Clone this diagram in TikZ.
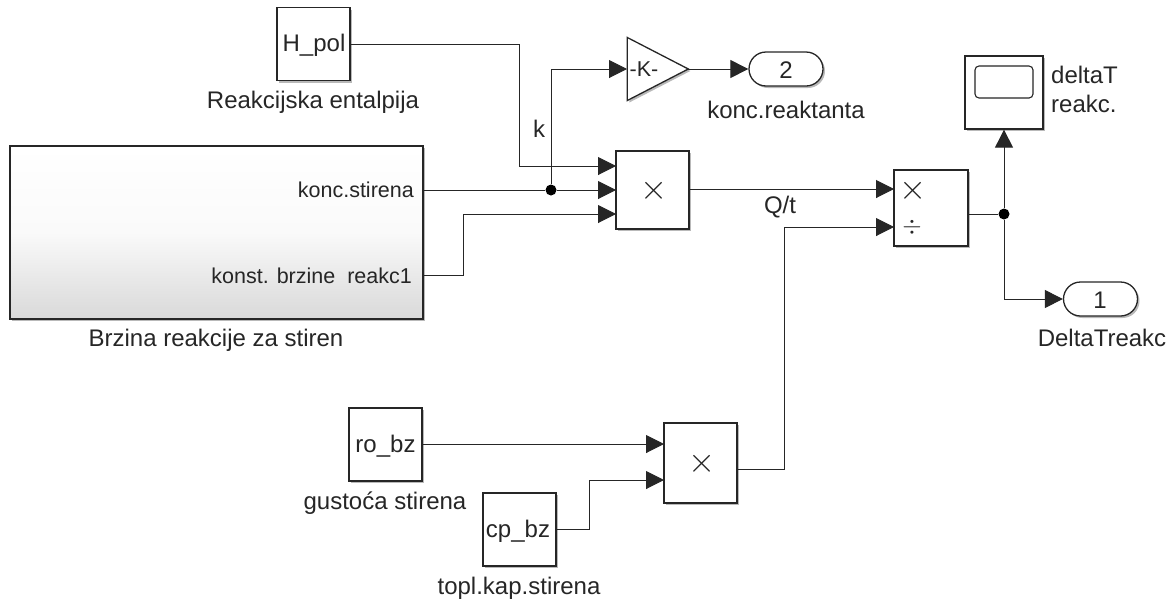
\documentclass[tikz,border=0pt]{standalone}
\usepackage{fontspec}
\setmainfont{Liberation Sans}
\usepackage{graphicx}
\usepackage{xcolor}
\usetikzlibrary{arrows.meta, shadows, shapes.geometric, shapes.misc}

\definecolor{inkgray}{HTML}{262626}
\newcommand{\prodsign}{\scalebox{1.4}{$\times$}}
\tikzset{
    blockshadow/.style={drop shadow={shadow xshift=2pt, shadow yshift=-2pt, fill=black!55}},
    block/.style={draw=inkgray, line width=1.3pt, fill=white, blockshadow, inner sep=0pt},
    port/.style={block, rounded rectangle, minimum width=74pt, minimum height=34pt},
    gainblock/.style={block, isosceles triangle, isosceles triangle stretches, minimum width=63pt, minimum height=61pt},
    txt/.style={text=inkgray, inner sep=0pt, font=\fontsize{24}{29}\selectfont},
    porttxt/.style={txt, anchor=east, font=\fontsize{21.5}{26}\selectfont},
    symb/.style={text=inkgray, inner sep=0pt, font=\fontsize{36}{36}\selectfont},
    wire/.style={draw=inkgray, line width=1pt},
    sig/.style={wire, -{Triangle[length=18pt, width=18pt]}},
    dot/.style={circle, fill=black, minimum size=11pt, inner sep=0pt}
}

\begin{document}
\begin{tikzpicture}[x=1pt, y=-1pt]
        \useasboundingbox (0,0) rectangle (1172,603);

        % Subsystem
        \node[block, top color=white, bottom color=black!15, middle color=black!2, minimum width=413pt, minimum height=173pt] (brzina) at (216.5,232.5) {};
        \node[porttxt] (koncstir) at (414,190) {konc.stirena};
        \node[porttxt] (konst) at (412,276) {konst. brzine\ \ reakc1};
        \node[txt] (brzinalab) at (216,340) {Brzina reakcije za stiren};
        \coordinate (brzinaA) at (423,190);
        \coordinate (brzinaB) at (423,275);
        \coordinate (bendB) at (463,214);

        % Enthalpy constant
        \node[block, minimum size=73pt] (hpol) at (313.5,44) {};
        \node[txt] (hpoltxt) at (314,45) {H\_pol};
        \node[txt] (hpollab) at (313,102) {Reakcijska entalpija};
        \coordinate (hpolA) at (350,44);
        \coordinate (bendH) at (519,166);

        % First product
        \node[block, minimum width=73pt, minimum height=78pt] (prodA) at (652.5,190) {};
        \node[symb] (prodAx) at (654,191) {\prodsign};
        \coordinate (prodAa) at (616,166);
        \coordinate (prodAb) at (616,190);
        \coordinate (prodAc) at (616,214);
        \coordinate (prodAout) at (689,189);

        % Gain
        \node[gainblock] (gain) at (646.5,69) {};
        \node[porttxt, anchor=center] (gaintxt) at (644,69) {-K-};
        \coordinate (gainin) at (627,69);
        \coordinate (gainout) at (688,69);
        \node[port] (outB) at (786,69) {};
        \node[txt] (outBtxt) at (786,70) {2};
        \node[txt] (outBlab) at (786,110) {konc.reaktanta};

        % Branch k
        \node[dot] (junA) at (551,190) {};
        \coordinate (kcorner) at (551,69);
        \node[txt] (klab) at (539,129) {k};

        % Second product
        \node[block, minimum width=74pt, minimum height=76pt] (prodB) at (931,208) {};
        \node[symb] (prodBx) at (913,191) {\prodsign};
        \node[symb] (prodBd) at (912,227) {$\div$};
        \coordinate (prodBa) at (894,189);
        \coordinate (prodBb) at (894,227);
        \coordinate (prodBout) at (968,214);
        \node[txt] (qtlab) at (780,207) {Q/t};

        % Scope
        \node[block, minimum width=78pt, minimum height=73pt] (scope) at (1004,92.5) {};
        \node[draw=inkgray, line width=1.1pt, rounded corners=4pt, minimum width=58pt, minimum height=32pt, inner sep=0pt] (screen) at (1004,82) {};
        \node[txt, anchor=north west, align=left] (scopelab) at (1051,66) {deltaT\\reakc.};

        % Junction and output
        \node[dot] (junB) at (1004,214) {};
        \coordinate (outAcorner) at (1004,299);
        \node[port] (outA) at (1100.5,299) {};
        \node[txt] (outAtxt) at (1100,300) {1};
        \node[txt] (outAlab) at (1102,338) {DeltaTreakc};

        % Density constant
        \node[block, minimum size=73pt] (robz) at (385.5,444.5) {};
        \node[txt] (robztxt) at (385.5,446) {ro\_bz};
        \node[txt] (robzlab) at (385,503) {gustoća stirena};
        \coordinate (robzA) at (422,444);

        % Heat capacity constant
        \node[block, minimum size=73pt] (cpbz) at (519.5,529.5) {};
        \node[txt] (cpbztxt) at (518,531) {cp\_bz};
        \node[txt] (cpbzlab) at (519,588) {topl.kap.stirena};
        \coordinate (cpbzA) at (556,529);
        \coordinate (bendC) at (589,480);

        % Third product
        \node[block, minimum width=73pt, minimum height=80pt] (prodC) at (700.5,463) {};
        \node[symb] (prodCx) at (702,464) {\prodsign};
        \coordinate (prodCa) at (664,444);
        \coordinate (prodCb) at (664,480);
        \coordinate (prodCout) at (737,469);
        \coordinate (bendQ) at (784,227);

        % Wires
        \draw[sig] (hpolA) -| (bendH) -- (prodAa);
        \draw[sig] (brzinaA) -- (junA) -- (prodAb);
        \draw[sig] (brzinaB) -| (bendB) -- (prodAc);
        \draw[sig] (junA) -- (kcorner) -- (gainin);
        \draw[sig] (gainout) -- (outB);
        \draw[sig] (prodAout) -- (prodBa);
        \draw[sig] (prodCout) -| (bendQ) -- (prodBb);
        \draw[wire] (prodBout) -- (junB);
        \draw[sig] (junB) -- (scope);
        \draw[sig] (junB) -- (outAcorner) -- (outA);
        \draw[sig] (robzA) -- (prodCa);
        \draw[sig] (cpbzA) -| (bendC) -- (prodCb);
    \end{tikzpicture}
\end{document}
